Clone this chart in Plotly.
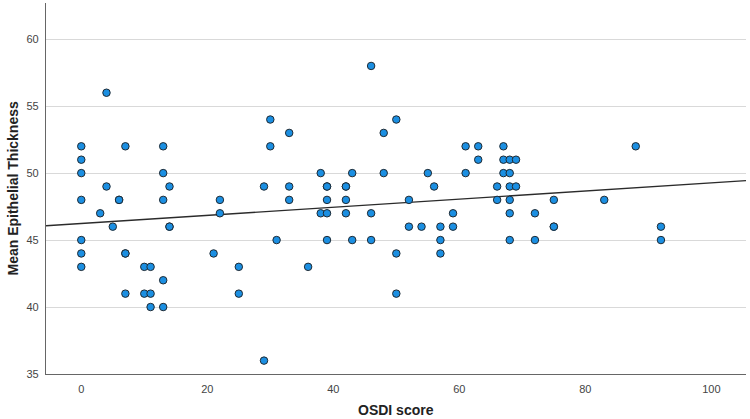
import plotly.graph_objects as go

# OSDI score (x) and Mean Epithelial Thickness (y)
osdi = [0, 0, 0, 0, 0, 0, 0,
        3, 4, 4, 5, 6, 6,
        7, 7, 7, 7,
        10, 10, 11, 11, 11,
        13, 13, 13, 13, 13,
        14, 14, 14,
        21, 22, 22, 25, 25,
        29, 29, 30, 30, 31,
        33, 33, 33, 36,
        38, 38, 39, 39, 39, 39, 39,
        42, 42, 42, 42, 43, 43,
        46, 46, 46, 48, 48,
        50, 50, 50, 52, 52, 54, 55, 56,
        57, 57, 57, 59, 59,
        61, 61, 63, 63, 66, 66,
        67, 67, 67,
        68, 68, 68, 68, 68, 68,
        69, 69, 72, 72, 75, 75, 75,
        83, 88, 92, 92]
thickness = [52, 51, 50, 48, 45, 44, 43,
             47, 56, 49, 46, 48, 48,
             52, 44, 44, 41,
             43, 41, 43, 41, 40,
             52, 50, 48, 42, 40,
             49, 46, 46,
             44, 48, 47, 43, 41,
             49, 36, 54, 52, 45,
             53, 49, 48, 43,
             50, 47, 49, 49, 48, 47, 45,
             49, 49, 48, 47, 50, 45,
             58, 47, 45, 53, 50,
             54, 44, 41, 48, 46, 46, 50, 49,
             46, 45, 44, 47, 46,
             52, 50, 52, 51, 49, 48,
             52, 51, 50,
             51, 50, 49, 48, 47, 45,
             51, 49, 47, 45, 48, 46, 46,
             48, 52, 46, 45]

# Fit line (intercept, slope) as drawn in the reference
fit_intercept = 46.24
fit_slope = 0.0303
x_range = [-5.6, 105.5]
y_range = [35, 62.7]

x_ticks = [0, 20, 40, 60, 80, 100]
y_ticks = [35, 40, 45, 50, 55, 60]

x_title = "OSDI score"
y_title = "Mean Epithelial Thickness"

FONT = "Liberation Sans, Arial, sans-serif"

fig = go.Figure()
fig.add_trace(go.Scatter(
    x=x_range,
    y=[fit_intercept + fit_slope * v for v in x_range],
    mode="lines",
    line=dict(color="#2b2b2b", width=1.4),
    hoverinfo="skip",
    showlegend=False,
))
fig.add_trace(go.Scatter(
    x=osdi, y=thickness, mode="markers",
    marker=dict(size=7.5, color="#1b8fe2", line=dict(color="#1f2a33", width=1)),
    showlegend=False,
))

fig.update_layout(
    width=750, height=419,
    margin=dict(l=46, r=4, t=3, b=45, autoexpand=False),
    paper_bgcolor="white", plot_bgcolor="white",
    font=dict(family=FONT, size=11, color="#444"),
    annotations=[
        dict(text=x_title, xref="paper", yref="paper", x=0.5, y=0,
             xanchor="center", yanchor="top", yshift=-26, showarrow=False,
             font=dict(family=FONT, size=14, color="#222", weight="bold")),
        dict(text=y_title, xref="paper", yref="paper", x=0, y=0.5,
             xanchor="right", yanchor="middle", xshift=-24, textangle=-90,
             showarrow=False,
             font=dict(family=FONT, size=14, color="#222", weight="bold")),
    ],
)
fig.update_xaxes(
    range=x_range, tickvals=x_ticks, ticktext=[str(v) for v in x_ticks],
    showgrid=False, zeroline=False, automargin=False,
    showline=True, linecolor="#666", linewidth=1.3,
    ticks="", ticklabelstandoff=5,
)
fig.update_yaxes(
    range=y_range, tickvals=y_ticks, ticktext=[str(v) for v in y_ticks],
    showgrid=True, gridcolor="#d9d9d9", gridwidth=1.2, zeroline=False, automargin=False,
    showline=True, linecolor="#666", linewidth=1.3,
    ticks="", ticklabelstandoff=4,
)

fig.write_html(
    "out.html",
    config={"displayModeBar": False},
    post_script="document.body.style.margin='0';document.body.style.overflow='hidden';",
)
